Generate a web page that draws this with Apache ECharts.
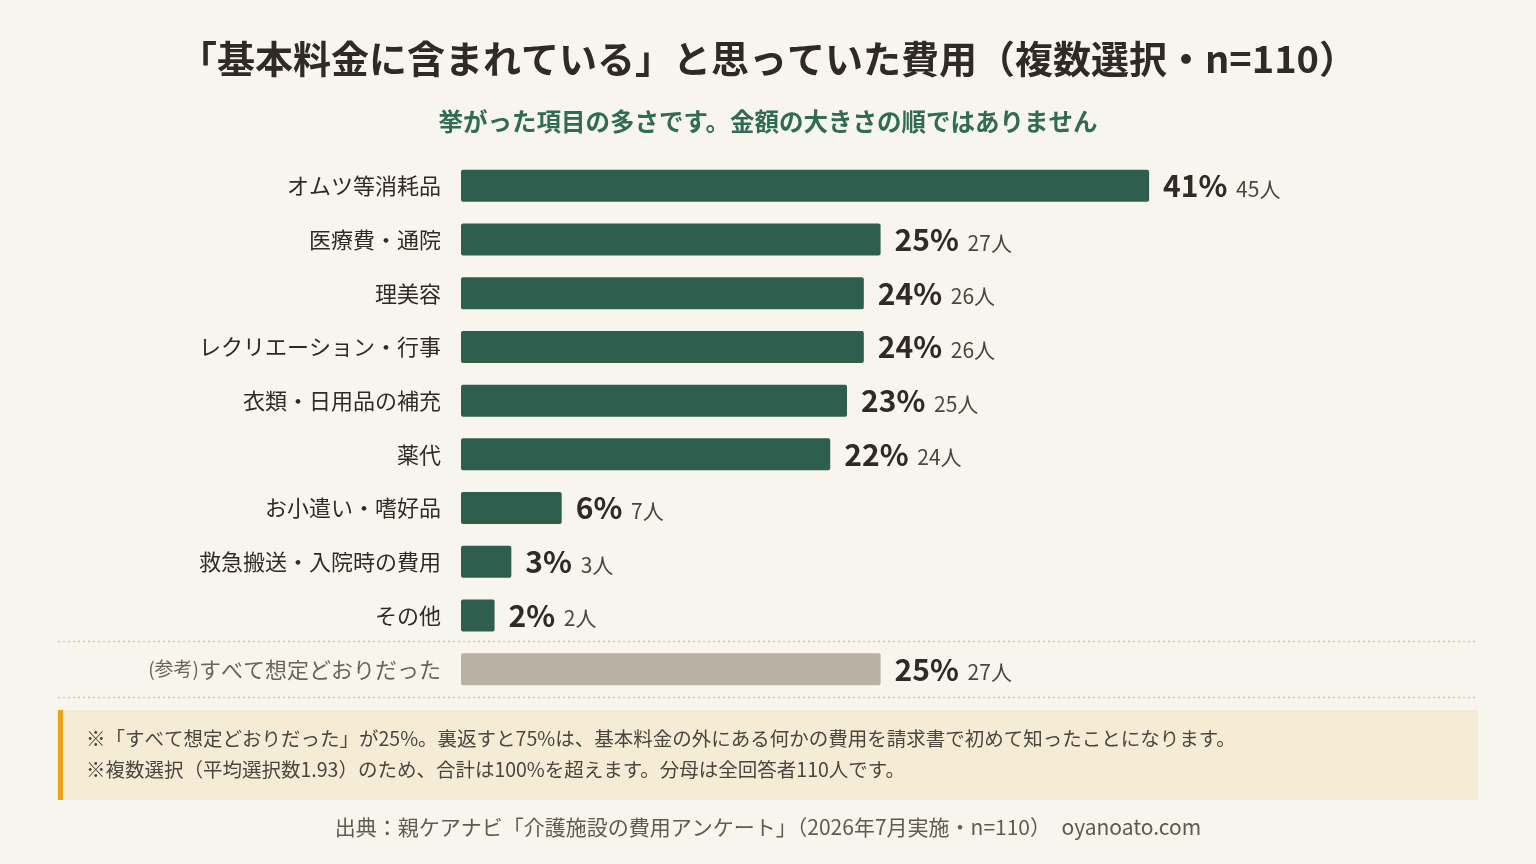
<!DOCTYPE html>
<html>
<head>
<meta charset="utf-8">
<style>
  html, body { margin: 0; padding: 0; background: #f8f5ee; }
  #chart { width: 1536px; height: 864px; }
</style>
<script src="https://cdn.jsdelivr.net/npm/echarts@6/dist/echarts.min.js"></script>
</head>
<body>
<div id="chart"></div>
<script>
  const categories = [
    'オムツ等消耗品', '医療費・通院', '理美容', 'レクリエーション・行事',
    '衣類・日用品の補充', '薬代', 'お小遣い・嗜好品', '救急搬送・入院時の費用',
    'その他', '（参考）すべて想定どおりだった'
  ]
  const percents = [41, 25, 24, 24, 23, 22, 6, 3, 2, 25]
  const counts = [45, 27, 26, 26, 25, 24, 7, 3, 2, 27]

  const font = '"Noto Sans CJK JP", "Noto Sans", sans-serif'
  const green = '#2d5e4e'
  const grey = '#b8b1a4'

  const chart = echarts.init(document.getElementById('chart'))
  const lastIdx = categories.length - 1

  chart.setOption({
    backgroundColor: '#f8f5ee',
    textStyle: { fontFamily: font },
    title: [{
      text: '「基本料金に含まれている」と思っていた費用（複数選択・n=110）',
      left: 'center',
      top: 35,
      textStyle: { fontFamily: font, fontSize: 38, fontWeight: 'bold', color: '#2f2a24' }
    }, {
      text: '挙がった項目の多さです。金額の大きさの順ではありません',
      left: 'center',
      top: 104,
      textStyle: { fontFamily: font, fontSize: 24.5, fontWeight: 'bold', color: '#2f6b55' }
    }],
    grid: { left: 461, right: 68, top: 159, bottom: 168, containLabel: false },
    xAxis: {
      type: 'value',
      min: 0,
      max: 60,
      show: false
    },
    yAxis: {
      type: 'category',
      inverse: true,
      data: categories.map((c, i) => {
        if (i === lastIdx) {
          return { value: c, textStyle: { color: '#6a645b', fontSize: 22 } }
        }
        return c
      }),
      axisLine: { show: false },
      axisTick: { show: false },
      axisLabel: {
        margin: 20,
        fontSize: 22,
        color: '#2f2a24',
        fontFamily: font,
        formatter: function (v) {
          if (v.indexOf('（参考）') === 0) {
            return '{s|(参考)}' + v.slice(4)
          }
          return v
        },
        rich: {
          s: { fontSize: 19, color: '#6a645b', fontFamily: font }
        }
      }
    },
    series: [{
      type: 'bar',
      barWidth: 32,
      data: percents.map((p, i) => ({
        value: p,
        itemStyle: { color: i === lastIdx ? grey : green }
      })),
      itemStyle: { borderRadius: 2 },
      label: {
        show: true,
        position: 'right',
        distance: 14,
        formatter: p => '{a|' + p.value + '%}{b| ' + counts[p.dataIndex] + '人}',
        rich: {
          a: { fontSize: 30, fontWeight: 'bold', color: '#2f2a24', fontFamily: font },
          b: { fontSize: 21, color: '#4a453e', fontFamily: font, padding: [6, 0, 0, 4] }
        }
      },
      silent: true
    }],
    graphic: [
      {
        type: 'line',
        shape: { x1: 58, y1: 641.5, x2: 1477, y2: 641.5 },
        style: { stroke: '#cdc7ba', lineWidth: 1.5, lineDash: [2, 3] }
      },
      {
        type: 'line',
        shape: { x1: 58, y1: 697.5, x2: 1477, y2: 697.5 },
        style: { stroke: '#cdc7ba', lineWidth: 1.5, lineDash: [2, 3] }
      },
      {
        type: 'rect',
        shape: { x: 58, y: 710, width: 1420, height: 90 },
        style: { fill: '#f5ecd6' }
      },
      {
        type: 'rect',
        shape: { x: 58, y: 710, width: 5, height: 90 },
        style: { fill: '#e8a317' }
      },
      {
        type: 'text',
        left: 86,
        top: 729,
        style: {
          text: '※「すべて想定どおりだった」が25%。裏返すと75%は、基本料金の外にある何かの費用を請求書で初めて知ったことになります。',
          font: '19.5px ' + font,
          fill: '#4a453e'
        }
      },
      {
        type: 'text',
        left: 86,
        top: 760,
        style: {
          text: '※複数選択（平均選択数1.93）のため、合計は100%を超えます。分母は全回答者110人です。',
          font: '19.5px ' + font,
          fill: '#4a453e'
        }
      },
      {
        type: 'text',
        left: 'center',
        top: 817,
        style: {
          text: '出典：親ケアナビ「介護施設の費用アンケート」（2026年7月実施・n=110）　oyanoato.com',
          font: '21px ' + font,
          fill: '#5f5a52'
        }
      }
    ]
  })
</script>
</body>
</html>
